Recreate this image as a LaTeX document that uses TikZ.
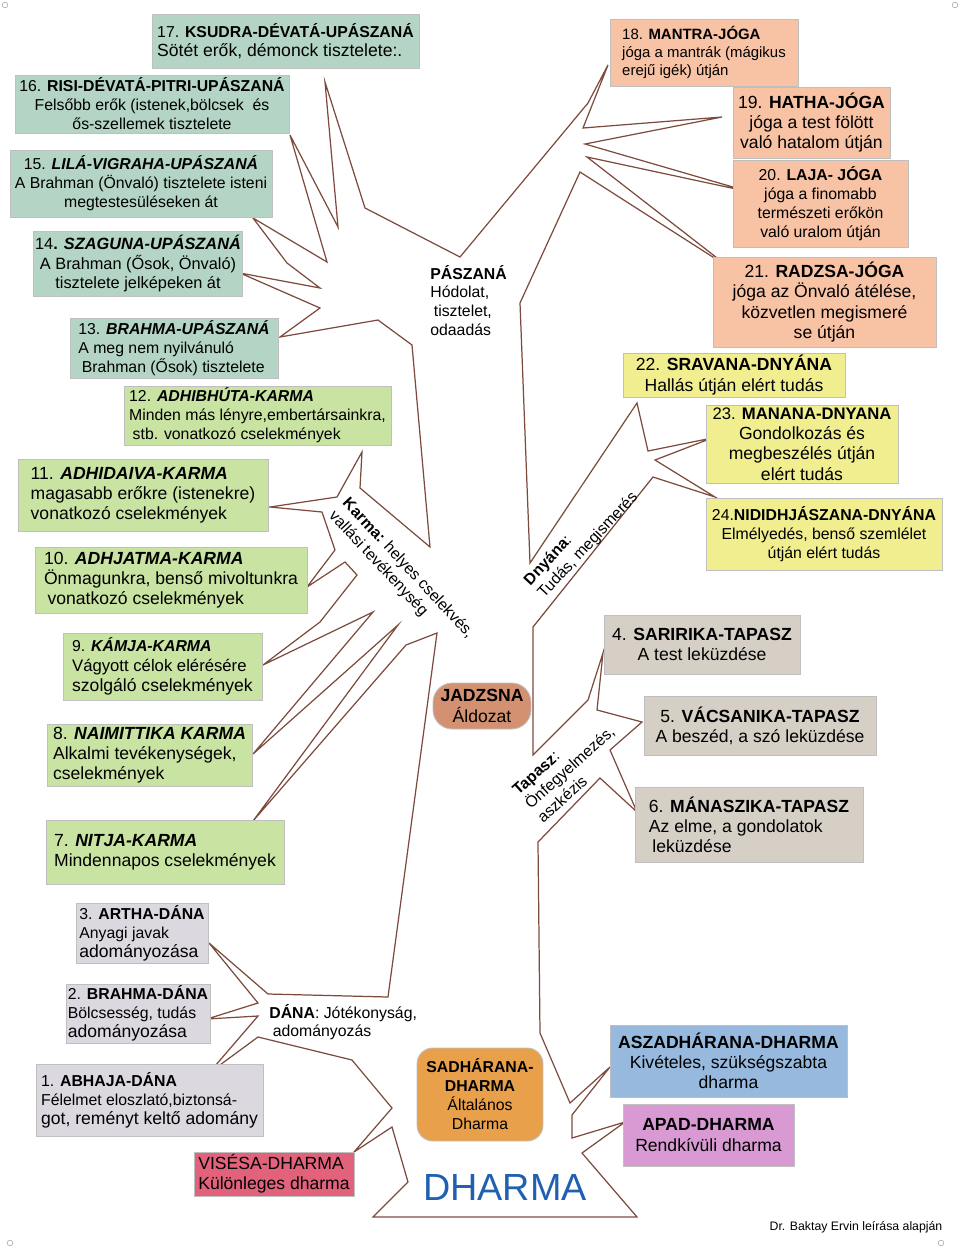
\documentclass[tikz,border=0pt]{standalone}
\usepackage{fontspec}
\setmainfont{Liberation Sans}
\usepackage{tikz}
\definecolor{dharmateal}{HTML}{B4D5C5}
\definecolor{dharmagreen}{HTML}{C9E3A3}
\definecolor{dharmalilac}{HTML}{DCD8E0}
\definecolor{dharmasalmon}{HTML}{F8C2A4}
\definecolor{dharmayellow}{HTML}{F0EE8E}
\definecolor{dharmatan}{HTML}{D6CFC6}
\definecolor{dharmablue}{HTML}{97B9DD}
\definecolor{dharmaviolet}{HTML}{D99AD4}
\definecolor{dharmared}{HTML}{E2627C}
\definecolor{dharmaorange}{HTML}{E9A04A}
\definecolor{dharmabrown}{HTML}{D39172}
\definecolor{dharmatrunk}{HTML}{7D4B3E}
\definecolor{dharmatitle}{HTML}{1F60B0}

\begin{document}
\begin{tikzpicture}[x=0.02cm,y=-0.02cm,
    box/.style={draw=black!25, line width=0.5pt, inner sep=1pt, font=\fontsize{9}{10.8}\selectfont},
    bigbox/.style={box, font=\fontsize{10}{11.5}\selectfont},
    branch/.style={inner sep=0pt, align=left, font=\fontsize{9}{10.6}\selectfont}]
  \useasboundingbox (0,0) rectangle (960,1249);
  \draw[dharmatrunk, line width=0.7pt, line join=miter]
    (373,1217) -- (408,1182) -- (392,1127) -- (354,1152) -- (392,1108) -- (352,1060)
    -- (258,1037) -- (209,1073) -- (258,1016) -- (207,1019) -- (258,1003) -- (209,943)
    -- (268,994) -- (388,997) -- (437,633) -- (406,645) -- (253,821) -- (398,625)
    -- (253,754) -- (373,612) -- (263,665) -- (320,622) -- (357,575) -- (345,562)
    -- (307,587) -- (335,550) -- (322,512) -- (270,507) -- (337,497) -- (362,452)
    -- (360,488) -- (430,547) -- (412,345) -- (378,320) -- (280,337) -- (320,308)
    -- (240,273) -- (320,288) -- (287,263) -- (253,218) -- (327,262) -- (290,135)
    -- (338,227) -- (325,82) -- (365,208) -- (460,257) -- (588,103) -- (608,65)
    -- (583,128) -- (722,117) -- (585,144) -- (750,192) -- (587,157) -- (730,268)
    -- (580,172) -- (520,303) -- (530,563) -- (637,403) -- (648,451) -- (712,438)
    -- (655,460) -- (715,497) -- (653,477) -- (533,627) -- (533,755) -- (588,700)
    -- (603,653) -- (597,710) -- (642,722) -- (610,750) -- (637,812) -- (600,778)
    -- (538,842) -- (540,1033) -- (570,1103) -- (610,1067) -- (572,1115) -- (572,1138)
    -- (625,1122) -- (582,1153) -- (637,1217) -- cycle;

  \node[box, fill=dharmateal, minimum width=5.34cm, minimum height=1.08cm, align=left] (upa17) at (285.5,41)
    {17. \textbf{KSUDRA-DÉVATÁ-UPÁSZANÁ}\\{\fontsize{10}{11}\selectfont Sötét erők, démonck tisztelete:.}};
  \node[box, fill=dharmateal, minimum width=5.48cm, minimum height=1.16cm, align=center] (upa16) at (152,104)
    {16. \textbf{RISI-DÉVATÁ-PITRI-UPÁSZANÁ}\\Felsőbb erők (istenek,bölcsek\ \ és\\ős-szellemek tisztelete};
  \node[box, fill=dharmateal, minimum width=5.24cm, minimum height=1.34cm, align=center] (upa15) at (141,183.5)
    {15. \textbf{\textit{LILÁ-VIGRAHA-UPÁSZANÁ}}\\A Brahman (Önvaló) tisztelete isteni\\megtestesüléseken át};
  \node[box, fill=dharmateal, minimum width=4.0cm, minimum height=1.3cm, align=center, font=\fontsize{9.3}{11}\selectfont] (upa14) at (138,263.5)
    {14\textbf{. \textit{SZAGUNA-UPÁSZANÁ}}\\A Brahman (Ősok, Önvaló)\\tisztelete jelképeken át};
  \node[box, fill=dharmateal, minimum width=4.16cm, minimum height=1.2cm, align=left] (upa13) at (174,348)
    {13. \textbf{\textit{BRAHMA-UPÁSZANÁ}}\\A meg nem nyilvánuló\\\hspace{2pt}Brahman (Ősok) tisztelete};

  \node[box, fill=dharmagreen, minimum width=5.34cm, minimum height=1.18cm, align=left] (karma12) at (257.5,415.5)
    {12. \textbf{\textit{ADHIBHÚTA-KARMA}}\\Minden más lényre,embertársainkra,\\\hspace{2pt}stb. vonatkozó cselekmények};
  \node[bigbox, fill=dharmagreen, minimum width=5.0cm, minimum height=1.44cm, align=left] (karma11) at (143,495)
    {11. \textbf{\textit{ADHIDAIVA-KARMA}}\\magasabb erőkre (istenekre)\\vonatkozó cselekmények};
  \node[bigbox, fill=dharmagreen, minimum width=5.44cm, minimum height=1.32cm, align=left] (karma10) at (171,580)
    {10. \textbf{\textit{ADHJATMA-KARMA}}\\Önmagunkra, benső mivoltunkra\\\hspace{2pt}vonatkozó cselekmények};
  \node[bigbox, fill=dharmagreen, minimum width=3.98cm, minimum height=1.34cm, align=left] (karma9) at (162.5,666.5)
    {{\fontsize{9}{10}\selectfont 9. \textbf{\textit{KÁMJA-KARMA}}}\\{\fontsize{9.5}{11}\selectfont Vágyott célok elérésére}\\szolgáló cselekmények};
  \node[bigbox, fill=dharmagreen, minimum width=4.1cm, minimum height=1.24cm, align=left] (karma8) at (149.5,755)
    {8. \textbf{\textit{NAIMITTIKA KARMA}}\\Alkalmi tevékenységek,\\cselekmények};
  \node[bigbox, fill=dharmagreen, minimum width=4.76cm, minimum height=1.28cm, align=left] (karma7) at (165,852)
    {7. \textbf{\textit{NITJA-KARMA}}\\Mindennapos cselekmények};

  \node[box, fill=dharmalilac, minimum width=2.64cm, minimum height=1.2cm, align=left] (dana3) at (142,933)
    {3. \textbf{ARTHA-DÁNA}\\Anyagi javak\\{\fontsize{10}{11}\selectfont adományozása}};
  \node[box, fill=dharmalilac, minimum width=2.88cm, minimum height=1.14cm, align=left] (dana2) at (138,1013.5)
    {2. \textbf{BRAHMA-DÁNA}\\Bölcsesség, tudás\\{\fontsize{10}{11}\selectfont adományozása}};
  \node[box, fill=dharmalilac, minimum width=4.54cm, minimum height=1.44cm, align=left] (dana1) at (149.5,1100)
    {1. \textbf{ABHAJA-DÁNA}\\Félelmet eloszlató,biztonsá-\\{\fontsize{10}{11}\selectfont got, reményt keltő adomány}};
  \node[bigbox, fill=dharmared, minimum width=3.2cm, minimum height=0.88cm, align=left] (visesa) at (274,1174)
    {VISÉSA-DHARMA\\Különleges dharma};

  \node[box, fill=dharmaorange, rounded corners=9pt, minimum width=2.52cm, minimum height=1.86cm, align=center] (sadharana) at (480,1094.5)
    {\textbf{SADHÁRANA-}\\\textbf{DHARMA}\\Általános\\Dharma};
  \node[bigbox, fill=dharmabrown, rounded corners=11pt, minimum width=1.96cm, minimum height=0.92cm, align=center] (jadzsna) at (482,706)
    {\textbf{JADZSNA}\\Áldozat};

  \node[box, fill=dharmasalmon, minimum width=3.76cm, minimum height=1.34cm, align=left, font=\fontsize{8.5}{10.2}\selectfont] (joga18) at (704,52.5)
    {18. \textbf{MANTRA-JÓGA}\\jóga a mantrák (mágikus\\erejű igék) útján};
  \node[bigbox, fill=dharmasalmon, minimum width=3.14cm, minimum height=1.42cm, align=center] (joga19) at (811.5,122.5)
    {19. \textbf{HATHA-JÓGA}\\jóga a test fölött\\való hatalom útján};
  \node[box, fill=dharmasalmon, minimum width=3.5cm, minimum height=1.74cm, align=center] (joga20) at (820.5,203.5)
    {20. \textbf{LAJA- JÓGA}\\jóga a finomabb\\természeti erőkön\\való uralom útján};
  \node[bigbox, fill=dharmasalmon, minimum width=4.46cm, minimum height=1.8cm, align=center] (joga21) at (824.5,302)
    {21. \textbf{RADZSA-JÓGA}\\jóga az Önvaló átélése,\\közvetlen megismeré\\se útján};

  \node[bigbox, fill=dharmayellow, minimum width=4.44cm, minimum height=0.88cm, align=center] (dnyana22) at (734,375)
    {22. \textbf{SRAVANA-DNYÁNA}\\Hallás útján elért tudás};
  \node[bigbox, fill=dharmayellow, minimum width=3.84cm, minimum height=1.56cm, align=center] (dnyana23) at (802,444)
    {{\fontsize{9.5}{10.4}\selectfont 23. \textbf{MANANA-DNYANA}}\\Gondolkozás és\\megbeszélés útján\\elért tudás};
  \node[box, fill=dharmayellow, minimum width=4.72cm, minimum height=1.44cm, align=center] (dnyana24) at (824,534)
    {24.\textbf{NIDIDHJÁSZANA-DNYÁNA}\\Elmélyedés, benső szemlélet\\útján elért tudás};

  \node[bigbox, fill=dharmatan, minimum width=3.92cm, minimum height=1.18cm, align=center] (tapasz4) at (702,644.5)
    {4. \textbf{SARIRIKA-TAPASZ}\\A test leküzdése};
  \node[bigbox, fill=dharmatan, minimum width=4.64cm, minimum height=1.18cm, align=center] (tapasz5) at (760,725.5)
    {5. \textbf{VÁCSANIKA-TAPASZ}\\A beszéd, a szó leküzdése};
  \node[bigbox, fill=dharmatan, minimum width=4.56cm, minimum height=1.5cm, align=left] (tapasz6) at (749,824.5)
    {6. \textbf{MÁNASZIKA-TAPASZ}\\Az elme, a gondolatok\\\hspace{2pt}leküzdése};

  \node[bigbox, fill=dharmablue, minimum width=4.74cm, minimum height=1.44cm, align=center] (aszad) at (728.5,1061)
    {\textbf{ASZADHÁRANA-DHARMA}\\Kivételes, szükségszabta\\dharma};
  \node[bigbox, fill=dharmaviolet, minimum width=3.42cm, minimum height=1.24cm, align=center] (apad) at (708.5,1135)
    {\textbf{APAD-DHARMA}\\Rendkívüli dharma};

  \node[branch, anchor=north west] (paszana) at (430,265)
    {\textbf{PÁSZANÁ}\\Hódolat,\\\hspace{2pt}tisztelet,\\odaadás};
  \node[branch, anchor=west] (dana) at (269,1022)
    {\textbf{DÁNA}: Jótékonyság,\\\hspace{2pt}adományozás};
  \node[branch, rotate=-47, anchor=west] (karma) at (338,507)
    {\textbf{Karma:} helyes cselekvés,\\vallási tevékenység};
  \node[branch, rotate=47, anchor=west] (dnyana) at (534,590)
    {\textbf{Dnyána}:\\Tudás, megismerés};
  \node[branch, rotate=42, anchor=west] (tapasz) at (527,806)
    {\textbf{Tapasz}:\\Önfegyelmezés,\\aszkézis};

  \node[dharmatitle, font=\fontsize{21.5}{24}\selectfont] (dharma) at (505,1187) {DHARMA};
  \node[font=\fontsize{7}{8}\selectfont] (credit) at (856,1227) {Dr. Baktay Ervin leírása alapján};

  \draw[black!30, line width=0.4pt] (5,5) circle[radius=1.6pt];
  \draw[black!30, line width=0.4pt] (955,5) circle[radius=1.6pt];
  \draw[black!30, line width=0.4pt] (10,1243) circle[radius=1.6pt];
  \draw[black!30, line width=0.4pt] (941,1243) circle[radius=1.6pt];
\end{tikzpicture}
\end{document}
